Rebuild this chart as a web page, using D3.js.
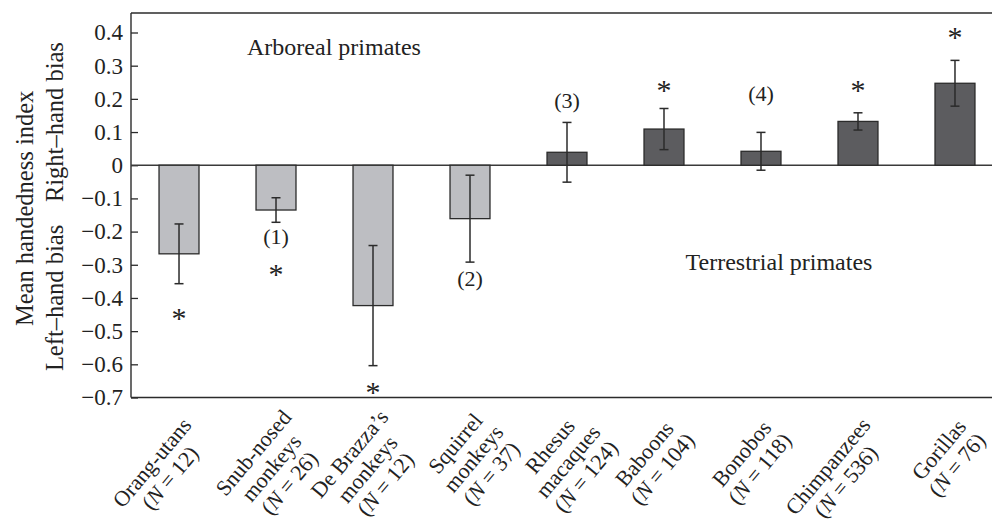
<!DOCTYPE html>
<html>
<head>
<meta charset="utf-8">
<script src="https://cdn.jsdelivr.net/npm/d3@7/dist/d3.min.js"></script>
<style>
  body { margin: 0; background: #fff; }
  svg { display: block; }
  svg text { font-family: "Liberation Serif", "Times New Roman", serif; }
</style>
</head>
<body>
<svg id="chart" width="992" height="525"></svg>
<script>
// species names (one entry per line of the rotated label) and sample sizes
const species = [
  ['Orang-utans'],
  ['Snub-nosed', 'monkeys'],
  ['De Brazza\u2019s', 'monkeys'],
  ['Squirrel', 'monkeys'],
  ['Rhesus', 'macaques'],
  ['Baboons'],
  ['Bonobos'],
  ['Chimpanzees'],
  ['Gorillas'],
];
const sampleN = [12, 26, 12, 37, 124, 104, 118, 536, 76];
const habitat = ['arboreal', 'arboreal', 'arboreal', 'arboreal',
  'terrestrial', 'terrestrial', 'terrestrial', 'terrestrial', 'terrestrial'];
const meanHI = [-0.267, -0.135, -0.423, -0.161, 0.039, 0.109, 0.042, 0.132, 0.247];
const seHI = [0.090, 0.037, 0.181, 0.131, 0.090, 0.062, 0.057, 0.026, 0.069];

// significance stars and footnote marks, with the level they sit at
const starMark = ['*', '*', '*', '', '', '*', '', '*', '*'];
const starAt = [-0.447, -0.314, -0.67, null, null, 0.239, null, 0.239, 0.40];
const noteMark = ['', '(1)', '', '(2)', '(3)', '', '(4)', '', ''];
const noteAt = [null, -0.22, null, -0.347, 0.19, null, 0.211, null, null];

const yTicks = [0.4, 0.3, 0.2, 0.1, 0, -0.1, -0.2, -0.3, -0.4, -0.5, -0.6, -0.7];
const yTickLabels = ['0.4', '0.3', '0.2', '0.1', '0', '\u22120.1', '\u22120.2', '\u22120.3',
  '\u22120.4', '\u22120.5', '\u22120.6', '\u22120.7'];

const fill = { arboreal: '#bdbec2', terrestrial: '#5c5c5f' };
const ink = '#2b2b2b';
const serif = '"Liberation Serif", "Times New Roman", serif';

const svg = d3.select('#chart');
const W = 992;
const frameTop = 13, frameLeft = 131;

const ids = d3.range(species.length);
const x = d3.scaleBand()
    .domain(ids)
    .range([frameLeft, 1003])
    .paddingInner(0.588)
    .paddingOuter(0.289);
const y = d3.scaleLinear().domain([-0.7, 0.4]).range([397.5, 32.5]);
const cx = i => x(i) + x.bandwidth() / 2;

// frame: top, bottom, left
svg.append('g')
    .attr('stroke', ink)
    .attr('stroke-width', 1.4)
  .selectAll('line')
  .data([
    [frameLeft, frameTop, W, frameTop],
    [frameLeft, y(-0.7), W, y(-0.7)],
    [frameLeft, frameTop, frameLeft, y(-0.7)],
  ])
  .join('line')
    .attr('x1', d => d[0]).attr('y1', d => d[1])
    .attr('x2', d => d[2]).attr('y2', d => d[3]);

// y axis, ticks pointing inward
const yAxis = svg.append('g')
    .attr('transform', `translate(${frameLeft},0)`)
    .call(d3.axisLeft(y)
      .tickValues(yTicks)
      .tickFormat((d, i) => yTickLabels[i])
      .tickSizeInner(-7)
      .tickSizeOuter(0)
      .tickPadding(8))
    .attr('font-family', serif)
    .attr('font-size', 23);
yAxis.select('.domain').remove();
yAxis.selectAll('.tick line').attr('stroke', ink).attr('stroke-width', 1.3);
yAxis.selectAll('.tick text').attr('fill', '#222');

// zero line
svg.append('line')
    .attr('x1', frameLeft).attr('x2', W)
    .attr('y1', y(0)).attr('y2', y(0))
    .attr('stroke', '#3a3a3a')
    .attr('stroke-width', 1.3);

// bars
svg.append('g')
  .selectAll('rect')
  .data(ids)
  .join('rect')
    .attr('x', i => x(i))
    .attr('width', x.bandwidth())
    .attr('y', i => y(Math.max(0, meanHI[i])))
    .attr('height', i => Math.abs(y(meanHI[i]) - y(0)))
    .attr('fill', i => fill[habitat[i]])
    .attr('stroke', ink)
    .attr('stroke-width', 1.3);

// error bars
const cap = 4.5;
const eb = svg.append('g')
    .attr('stroke', ink)
    .attr('stroke-width', 1.5)
  .selectAll('g')
  .data(ids)
  .join('g')
    .attr('transform', i => `translate(${cx(i)},0)`);
eb.append('line')
    .attr('y1', i => y(meanHI[i] + seHI[i]))
    .attr('y2', i => y(meanHI[i] - seHI[i]));
eb.append('line')
    .attr('x1', -cap).attr('x2', cap)
    .attr('y1', i => y(meanHI[i] + seHI[i]))
    .attr('y2', i => y(meanHI[i] + seHI[i]));
eb.append('line')
    .attr('x1', -cap).attr('x2', cap)
    .attr('y1', i => y(meanHI[i] - seHI[i]))
    .attr('y2', i => y(meanHI[i] - seHI[i]));

// stars and footnote marks
svg.append('g')
  .selectAll('text')
  .data(ids.filter(i => starMark[i]))
  .join('text')
    .attr('x', cx)
    .attr('y', i => y(starAt[i]))
    .attr('dy', '0.47em')
    .attr('text-anchor', 'middle')
    .style('font-size', '30px')
    .attr('fill', '#222')
    .text(i => starMark[i]);
svg.append('g')
  .selectAll('text')
  .data(ids.filter(i => noteMark[i]))
  .join('text')
    .attr('x', cx)
    .attr('y', i => y(noteAt[i]))
    .attr('dy', '0.27em')
    .attr('text-anchor', 'middle')
    .style('font-size', '22px')
    .attr('fill', '#222')
    .text(i => noteMark[i]);

// habitat captions
svg.append('text')
    .attr('x', cx(1) + 58)
    .attr('y', y(0.332))
    .attr('text-anchor', 'middle')
    .style('font-size', '24px')
    .attr('fill', '#222')
    .text('Arboreal primates');
svg.append('text')
    .attr('x', cx(6) + 18)
    .attr('y', y(-0.315))
    .attr('text-anchor', 'middle')
    .style('font-size', '24px')
    .attr('fill', '#222')
    .text('Terrestrial primates');

// rotated species labels: lines centred, block right edge near the tick
const lineGap = 23.5;
const lbl = svg.append('g')
  .selectAll('g')
  .data(ids)
  .join('g')
    .attr('transform', i => `translate(${cx(i)},400) rotate(-50)`);
lbl.each(function(i) {
  const g = d3.select(this);
  const lines = species[i];
  const top = lines.length > 1 ? 24 : 27;
  const edge = lines.length > 1 ? -3 : -11;
  const texts = lines.map((s, k) => g.append('text')
      .attr('y', top + k * lineGap)
      .text(s));
  const nt = g.append('text').attr('y', top + lines.length * lineGap);
  nt.append('tspan').text('(');
  nt.append('tspan').attr('font-style', 'italic').text('N');
  nt.append('tspan').text(` = ${sampleN[i]})`);
  texts.push(nt);
  texts.forEach(t => t.style('font-size', '22px').attr('fill', '#222'));
  const wMax = d3.max(texts, t => t.node().getComputedTextLength());
  texts.forEach(t => t.attr('text-anchor', 'middle').attr('x', edge - wMax / 2));
});

// y axis title
const title = svg.append('g')
    .style('font-size', '24.5px')
    .attr('fill', '#222');
title.append('text')
    .attr('transform', `translate(33,${y(-0.13)}) rotate(-90)`)
    .attr('text-anchor', 'middle')
    .text('Mean handedness index');
title.append('text')
    .attr('transform', `translate(63,${y(-0.4)}) rotate(-90)`)
    .attr('text-anchor', 'middle')
    .text('Left\u2013hand bias');
title.append('text')
    .attr('transform', `translate(63,${y(0.13)}) rotate(-90)`)
    .attr('text-anchor', 'middle')
    .text('Right\u2013hand bias');
</script>
</body>
</html>
